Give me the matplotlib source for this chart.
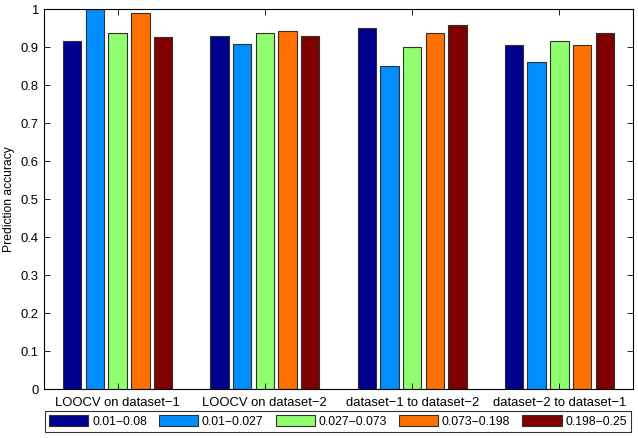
import numpy as np
import matplotlib
matplotlib.use('Agg')
import matplotlib.pyplot as plt

plt.rcParams['font.family'] = ['Liberation Sans', 'DejaVu Sans']
plt.rcParams['font.size'] = 9.4

groups = ['LOOCV on dataset\u22121', 'LOOCV on dataset\u22122',
          'dataset\u22121 to dataset\u22122', 'dataset\u22122 to dataset\u22121']
ranges = ['0.01\u22120.08', '0.01\u22120.027', '0.027\u22120.073',
          '0.073\u22120.198', '0.198\u22120.25']

# accuracy per range, one list per group
acc_loocv1 = [0.916, 1.000, 0.937, 0.990, 0.926]
acc_loocv2 = [0.929, 0.907, 0.936, 0.943, 0.929]
acc_1to2 = [0.950, 0.849, 0.900, 0.937, 0.958]
acc_2to1 = [0.905, 0.861, 0.916, 0.905, 0.937]

colors = ['#00008f', '#008fff', '#8fff70', '#ff7000', '#800000']

data = np.array([acc_loocv1, acc_loocv2, acc_1to2, acc_2to1])
x = np.arange(1, len(groups) + 1)

fig = plt.figure(figsize=(6.38, 4.38), dpi=100)
ax = fig.add_axes([44 / 638, 1 - 389 / 438, 589 / 638, 380 / 438])

pitch = 0.154
width = 0.125
for i in range(len(ranges)):
    ax.bar(x + (i - 2) * pitch, data[:, i], width, color=colors[i],
           edgecolor='#303030', linewidth=0.8, label=ranges[i])

ax.set_xlim(0.5, 4.5)
ax.set_ylim(0, 1)
ax.set_xticks(x)
ax.set_xticklabels(groups)
yt = np.arange(0, 1.01, 0.1)
ax.set_yticks(yt)
ax.set_yticklabels(['%g' % round(v, 1) for v in yt])
ax.tick_params(direction='in', length=4, width=0.6, top=True, right=True)
ax.tick_params(axis='x', pad=6)
ax.tick_params(axis='y', pad=4)
for s in ax.spines.values():
    s.set_linewidth(0.8)
ax.set_ylabel('Prediction accuracy', fontsize=8.7)
ax.yaxis.set_label_coords(-29 / 589, 0.5)

leg = fig.legend(loc='lower left', ncol=5, mode='expand',
                 bbox_to_anchor=(45 / 638, 1 - 432 / 438, 586 / 638, 22 / 438),
                 frameon=True, fancybox=False, fontsize=8.8,
                 handlelength=3.2, handleheight=1.05, handletextpad=0.3,
                 borderpad=0.35, borderaxespad=0)
leg.get_frame().set_edgecolor('black')
leg.get_frame().set_linewidth(0.8)

fig.savefig('out.png', dpi=100)
